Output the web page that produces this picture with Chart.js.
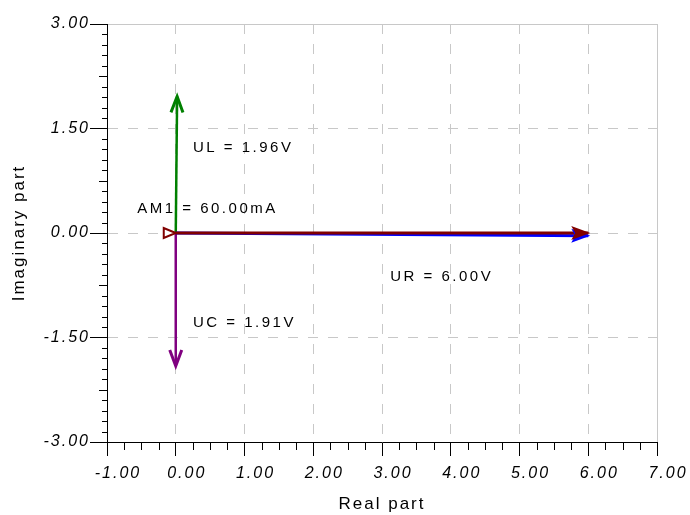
<!DOCTYPE html>
<html>
<head>
<meta charset="utf-8">
<script src="https://cdn.jsdelivr.net/npm/chart.js@4/dist/chart.umd.min.js"></script>
<style>
  html, body { margin: 0; padding: 0; background: #fff; }
  #wrap { width: 690px; height: 515px; position: relative; }
</style>
</head>
<body>
<div id="wrap"><canvas id="phasorChart"></canvas></div>
<script>
// phasors: real / imaginary part of each vector
const vectorNames = ['AM1', 'UR', 'UL', 'UC'];
const realValues = [6.00, 6.00, 0.02, 0.00];
const imagValues = [0.00, -0.04, 1.96, -1.91];
const vectorTexts = ['AM1 = 60.00mA', 'UR = 6.00V', 'UL = 1.96V', 'UC = 1.91V'];
const vectorColors = ['#800000', '#0000ff', '#008000', '#800080'];
const xTickValues = [-1, 0, 1, 2, 3, 4, 5, 6, 7];
const yTickValues = [-3, -1.5, 0, 1.5, 3];

const FONT = '"Liberation Sans", Arial, sans-serif';
const GRID_COLOR = '#c8c8c8';
const SPACING = '2px';

// where the value texts sit, in axis units
const textAnchors = [[-0.56, 0.34], [3.12, -0.63], [0.25, 1.22], [0.25, -1.29]];
const headStyles = ['filled', 'filled', 'open', 'open'];

const datasets = vectorNames.map((name, i) => ({
    label: name,
    data: [{ x: 0, y: 0 }, { x: realValues[i], y: imagValues[i] }],
    showLine: true,
    borderColor: vectorColors[i],
    backgroundColor: vectorColors[i],
    borderWidth: i < 2 ? 3 : 2.5,
    pointRadius: 0,
    pointHoverRadius: 0
}));

// wide letter spacing like the original plot
const spacingPlugin = {
    id: 'spacing',
    beforeUpdate(chart) { chart.ctx.letterSpacing = SPACING; },
    beforeLayout(chart) { chart.ctx.letterSpacing = SPACING; },
    beforeDraw(chart) { chart.ctx.letterSpacing = SPACING; }
};

// value texts, under the vectors
const textPlugin = {
    id: 'vectorTexts',
    beforeDatasetsDraw(chart) {
        const { ctx, scales: { x, y } } = chart;
        ctx.save();
        ctx.letterSpacing = '2.5px';
        ctx.font = '15px ' + FONT;
        ctx.fillStyle = '#000';
        ctx.textAlign = 'left';
        ctx.textBaseline = 'middle';
        vectorTexts.forEach((t, i) => {
            ctx.fillText(t, x.getPixelForValue(textAnchors[i][0]), y.getPixelForValue(textAnchors[i][1]));
        });
        ctx.restore();
    }
};

// arrow heads at the vector tips, hollow marker at the origin of the current
const arrowPlugin = {
    id: 'arrows',
    afterDatasetsDraw(chart) {
        const ctx = chart.ctx;
        for (let i = chart.data.datasets.length - 1; i >= 0; i--) {
            const pts = chart.getDatasetMeta(i).data;
            const a = pts[0], b = pts[1];
            const ang = Math.atan2(b.y - a.y, b.x - a.x);
            ctx.save();
            ctx.translate(b.x, b.y);
            ctx.rotate(ang);
            ctx.strokeStyle = vectorColors[i];
            ctx.fillStyle = vectorColors[i];
            if (headStyles[i] === 'filled') {
                ctx.beginPath();
                ctx.moveTo(2, 0);
                ctx.lineTo(-17, -7);
                ctx.lineTo(-13, 0);
                ctx.lineTo(-17, 7);
                ctx.closePath();
                ctx.fill();
            } else {
                ctx.lineWidth = 3;
                ctx.beginPath();
                ctx.moveTo(-16, -6);
                ctx.lineTo(0, 0);
                ctx.lineTo(-16, 6);
                ctx.stroke();
            }
            ctx.restore();
        }
        const o = chart.getDatasetMeta(0).data[0];
        ctx.save();
        ctx.strokeStyle = vectorColors[0];
        ctx.fillStyle = '#fff';
        ctx.lineWidth = 2;
        ctx.beginPath();
        ctx.moveTo(o.x, o.y);
        ctx.lineTo(o.x - 12, o.y - 5);
        ctx.lineTo(o.x - 12, o.y + 5);
        ctx.closePath();
        ctx.fill();
        ctx.stroke();
        ctx.restore();
    }
};

// minor tick marks on both axes
const minorTicks = {
    id: 'minorTicks',
    afterDraw(chart) {
        const { ctx, scales: { x, y }, chartArea } = chart;
        ctx.save();
        ctx.strokeStyle = '#000';
        ctx.lineWidth = 1;
        ctx.beginPath();
        for (let i = 1; i < 32; i++) {
            if (i % 4 === 0) continue;
            const px = Math.round(x.getPixelForValue(-1 + i * 0.25)) + 0.5;
            ctx.moveTo(px, chartArea.bottom);
            ctx.lineTo(px, chartArea.bottom + 8);
        }
        for (let i = 1; i < 40; i++) {
            if (i % 10 === 0) continue;
            const py = Math.round(y.getPixelForValue(-3 + i * 0.15)) + 0.5;
            const len = i % 5 === 0 ? 8 : 5;
            ctx.moveTo(chartArea.left, py);
            ctx.lineTo(chartArea.left - len, py);
        }
        ctx.stroke();
        ctx.restore();
    }
};

const chart = new Chart(document.getElementById('phasorChart'), {
    type: 'scatter',
    data: { datasets: datasets },
    options: {
        responsive: true,
        maintainAspectRatio: false,
        animation: false,
        layout: { padding: { top: 24, right: 33, left: 0, bottom: 0 } },
        plugins: {
            legend: { display: false },
            tooltip: { enabled: false }
        },
        scales: {
            x: {
                type: 'linear',
                min: -1,
                max: 7,
                afterBuildTicks: s => { s.ticks = xTickValues.map(v => ({ value: v })); },
                afterFit: s => { s.height = 73; },
                grid: {
                    color: GRID_COLOR,
                    tickColor: '#000',
                    tickLength: 14,
                    lineWidth: 1
                },
                border: {
                    display: true,
                    color: '#000',
                    width: 1,
                    dash: c => (c.tick && c.tick.value === 7 ? [] : [10, 10])
                },
                ticks: {
                    color: '#000',
                    padding: 8,
                    labelOffset: 11,
                    maxRotation: 0,
                    font: { family: FONT, size: 16, style: 'italic' },
                    callback: v => v.toFixed(2)
                },
                title: {
                    display: true,
                    text: 'Real part',
                    color: '#000',
                    font: { family: FONT, size: 17 },
                    padding: { top: 0, bottom: 0 }
                }
            },
            y: {
                type: 'linear',
                min: -3,
                max: 3,
                afterBuildTicks: s => { s.ticks = yTickValues.map(v => ({ value: v })); },
                afterFit: s => { s.width = 107; },
                grid: {
                    color: c => (c.tick && c.tick.value === -3 ? 'rgba(0,0,0,0)' : GRID_COLOR),
                    tickColor: '#000',
                    tickLength: 17,
                    lineWidth: 1
                },
                border: {
                    display: true,
                    color: '#000',
                    width: 1,
                    dash: c => (c.tick && c.tick.value === 3 ? [] : [10, 10])
                },
                ticks: {
                    color: '#000',
                    padding: 0,
                    font: { family: FONT, size: 16, style: 'italic' },
                    callback: v => v.toFixed(2)
                },
                title: {
                    display: true,
                    text: 'Imaginary part',
                    color: '#000',
                    font: { family: FONT, size: 17 },
                    padding: { top: 9, bottom: 0 }
                }
            }
        }
    },
    plugins: [spacingPlugin, textPlugin, arrowPlugin, minorTicks]
});
</script>
</body>
</html>
